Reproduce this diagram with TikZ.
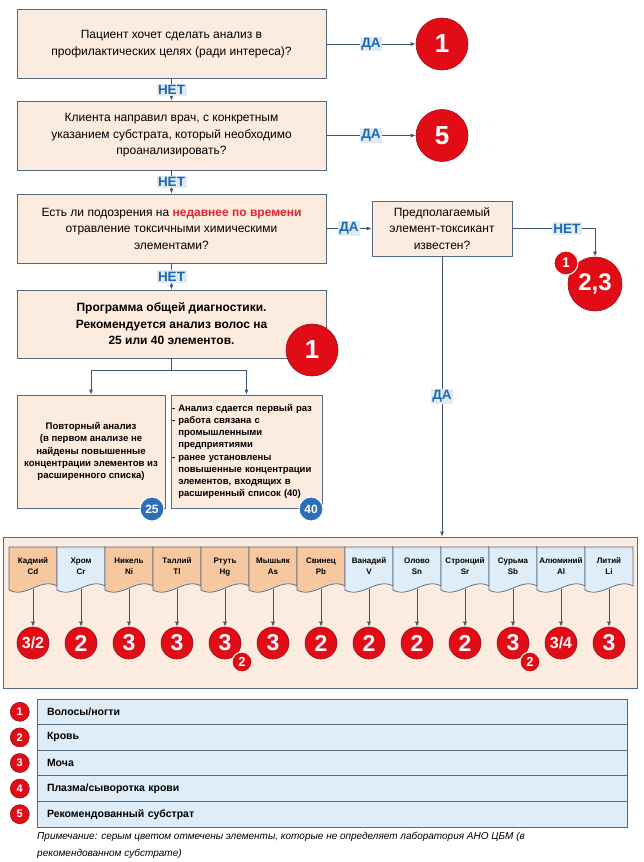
\documentclass[tikz,border=0pt]{standalone}
\usepackage{fontspec}
\setmainfont{Liberation Sans}
\usetikzlibrary{arrows.meta,positioning}
\definecolor{boxfill}{RGB}{252,235,223}
\definecolor{boxline}{RGB}{84,104,128}
\definecolor{arrowcol}{RGB}{60,85,115}
\definecolor{labelblue}{RGB}{25,105,180}
\definecolor{labelbg}{RGB}{226,233,240}
\definecolor{markred}{RGB}{226,12,22}
\definecolor{markdark}{RGB}{150,20,25}
\definecolor{tabpeach}{RGB}{246,200,160}
\definecolor{tabblue}{RGB}{222,237,248}
\definecolor{badgeblue}{RGB}{45,110,185}
\definecolor{hotred}{RGB}{228,35,45}

\begin{document}
\begin{tikzpicture}[x=1pt, y=-1pt,
  question/.style={draw=boxline, fill=boxfill, line width=0.8pt, minimum width=309pt, minimum height=69pt, align=center, font=\fontsize{12}{16.5}\selectfont},
  answer/.style={fill=labelbg, text=labelblue, inner sep=1.5pt, font=\bfseries\fontsize{13.5}{13.5}\selectfont},
  arr/.style={-{Latex[length=5pt,width=4pt]}, draw=arrowcol, line width=0.8pt},
  result/.style={circle, fill=markred, draw=markdark, line width=0.6pt, text=white, inner sep=0pt, minimum size=52pt, font=\bfseries\fontsize{26}{26}\selectfont},
  elemresult/.style={result, minimum size=32pt, font=\bfseries\fontsize{23}{23}\selectfont},
  subresult/.style={result, draw=white, line width=1pt, minimum size=20pt, font=\bfseries\fontsize{13}{13}\selectfont},
  badge/.style={circle, fill=badgeblue, draw=white, line width=1pt, text=white, inner sep=0pt, minimum size=24pt, font=\bfseries\fontsize{12}{12}\selectfont},
  tabtext/.style={anchor=north, align=center, inner sep=0pt, font=\bfseries\fontsize{8}{11}\selectfont},
  legendrow/.style={draw=boxline, fill=tabblue, line width=0.8pt, minimum width=590pt, minimum height=25.6pt, text width=570pt, align=left, font=\bfseries\fontsize{10.5}{10.5}\selectfont}]
\useasboundingbox (0,0) rectangle (643,862);

% Questions
\node[question] (q1) at (171.5,44) {Пациент хочет сделать анализ в\\профилактических целях (ради интереса)?};
\node[question] (q2) at (171.5,135.5) {Клиента направил врач, с конкретным\\указанием субстрата, который необходимо\\проанализировать?};
\node[question] (q3) at (171.5,228.5) {Есть ли подозрения на \textcolor{hotred}{\bfseries недавнее по времени}\\отравление токсичными химическими\\элементами?};
\node[question, minimum width=140pt, minimum height=55pt] (q4) at (442,228.5) {Предполагаемый\\элемент-токсикант\\известен?};
\node[question, minimum height=68pt, font=\bfseries\fontsize{12}{16.5}\selectfont] (q5) at (171.5,324) {Программа общей диагностики.\\Рекомендуется анализ волос на\\25 или 40 элементов.};

% Results
\node[result] (c1) at (442,44) {1};
\node[result] (c5) at (442,135.5) {5};
\node[result, minimum size=54pt, font=\bfseries\fontsize{24}{24}\selectfont] (c23) at (595,284) {2,3};
\node[subresult, minimum size=24pt, font=\bfseries\fontsize{14}{14}\selectfont] (c23a) at (566,263) {1};
\node[result] (cq5) at (312,350) {1};

% Programs
\node[question, minimum width=148pt, minimum height=113pt, font=\bfseries\fontsize{9.6}{12.3}\selectfont] (r1) at (91,451.5) {Повторный анализ\\(в первом анализе не\\найдены повышенные\\концентрации элементов из\\расширенного списка)};
\node[question, minimum width=151pt, minimum height=113pt, text width=149pt, inner sep=1pt, align=left, font=\bfseries\fontsize{9.5}{12.2}\selectfont] (r2) at (246.5,451.5) {- Анализ сдается первый раз\\- работа связана с\\\phantom{- }промышленными\\\phantom{- }предприятиями\\- ранее установлены\\\phantom{- }повышенные концентрации\\\phantom{- }элементов, входящих в\\\phantom{- }расширенный список (40)};
\node[badge] (b25) at (152,509) {25};
\node[badge] (b40) at (311,509) {40};
\coordinate (split) at (171.5,370);

% Elements
\node[question, minimum width=634pt, minimum height=151pt] (elems) at (320,612.5) {};
\foreach \sym/\name/\col/\res [count=\i from 0] in {Cd/Кадмий/tabpeach/{\fontsize{16}{16}\selectfont 3/2}, Cr/Хром/tabblue/2, Ni/Никель/tabpeach/3, Tl/Таллий/tabpeach/3, Hg/Ртуть/tabpeach/3, As/Мышьяк/tabpeach/3, Pb/Свинец/tabpeach/2, V/Ванадий/tabblue/2, Sn/Олово/tabblue/2, Sr/Стронций/tabblue/2, Sb/Сурьма/tabblue/3, Al/Алюминий/tabblue/{\fontsize{16}{16}\selectfont 3/4}, Li/Литий/tabblue/3}{
  \pgfmathsetmacro\xl{9+48*\i}
  \filldraw[fill=\col, draw=boxline, line width=0.7pt] (\xl,547) -- (\xl,590) .. controls (\xl+16,599) and (\xl+32,577) .. (\xl+48,586) -- (\xl+48,547) -- cycle;
  \node[tabtext] (t\i) at (\xl+24,556) {\vphantom{Й}\name\\\sym};
  \coordinate (tb\i) at (\xl+24,589);
  \node[elemresult] (e\i) at (\xl+24,643) {\res};
  \draw[arr] (tb\i) -- (e\i);
}
\node[subresult] (e4a) at ([shift={(17,19)}]e4.center) {2};
\node[subresult] (e10a) at ([shift={(17,19)}]e10.center) {2};

% Legend
\foreach \txt [count=\i] in {{Волосы/ногти}, Кровь, Моча, {Плазма/сыворотка крови}, Рекомендованный субстрат}{
  \node[legendrow] (l\i) at (332,711.8+25.6*\i-25.6) {\txt};
  \node[result, minimum size=19pt, font=\bfseries\fontsize{11}{11}\selectfont, left=7pt of l\i] (n\i) {\i};
}
\node[anchor=north west, align=left, inner sep=0pt, font=\itshape\fontsize{10}{17}\selectfont] (note) at (37,832) {Примечание: серым цветом отмечены элементы, которые не определяет лаборатория АНО ЦБМ (в\\рекомендованном субстрате)};

% Arrows
\draw[arr] (q1) -- node[answer] {ДА} (c1);
\draw[arr] (q2) -- node[answer] {ДА} (c5);
\draw[arr] (q3) -- node[answer] {ДА} (q4);
\draw[arr] (q1) -- node[answer] {НЕТ} (q2);
\draw[arr] (q2) -- node[answer] {НЕТ} (q3);
\draw[arr] (q3) -- node[answer] {НЕТ} (q5);
\draw[arr] (q4) -| node[answer, pos=0.33] {НЕТ} (c23);
\draw[arr] (q4) -- node[answer] {ДА} (q4 |- elems.north);
\draw[arrowcol, line width=0.8pt] (q5) -- (split);
\draw[arr] (split) -| (r1.north);
\draw[arr] (split) -| (r2.north);
\end{tikzpicture}
\end{document}
